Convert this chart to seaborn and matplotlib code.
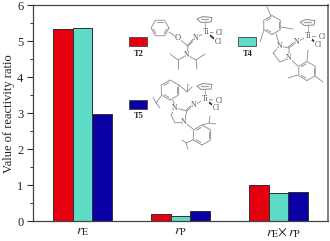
import numpy as np
import pandas as pd
import matplotlib
matplotlib.use("Agg")
import matplotlib.pyplot as plt
import matplotlib.patches as mpatches
from matplotlib.ticker import MultipleLocator
import seaborn as sns

# data
categories = ["rE", "rP", "rE x rP"]
catalysts = ["T2", "T4", "T5"]
t2_values = [5.35, 0.19, 0.99]
t4_values = [5.38, 0.15, 0.79]
t5_values = [2.97, 0.27, 0.80]
tick_labels = [r"$r_{\mathrm{E}}$", r"$r_{\mathrm{P}}$",
               r"$\quad r_{\mathrm{E}}{\times}\,r_{\mathrm{P}}$"]
colors = {"T2": "#e6000f", "T4": "#5fdcc8", "T5": "#0a00a6"}

GREY = "#8a8a8a"
W, H = 330, 241

sns.set_theme(style="ticks")
plt.rcParams.update({
    "font.family": ["Liberation Serif", "DejaVu Serif"],
    "mathtext.fontset": "stix",
})

df = pd.DataFrame({
    "category": categories * 3,
    "catalyst": np.repeat(catalysts, 3),
    "value": t2_values + t4_values + t5_values,
})

fig = plt.figure(figsize=(W / 100, H / 100), dpi=100)
ax = fig.add_axes([33 / W, 1 - 221 / H, 295 / W, 215.5 / H])
sns.barplot(data=df, x="category", y="value", hue="catalyst", order=categories,
            hue_order=catalysts, palette=colors, width=0.6, gap=0, saturation=1,
            edgecolor="#303030", linewidth=0.7, legend=False, ax=ax)

ax.set_xlim(-0.505, 2.505)
ax.set_ylim(0, 6)
ax.yaxis.set_major_locator(MultipleLocator(1))
ax.yaxis.set_minor_locator(MultipleLocator(0.5))
ax.tick_params(axis="y", which="major", length=4, width=0.8, labelsize=9, pad=3, color="#333333")
ax.tick_params(axis="y", which="minor", length=2, width=0.7, color="#333333")
ax.tick_params(axis="x", length=0, labelsize=10, pad=3)
ax.set_xticks(range(3))
ax.set_xticklabels(tick_labels)
ax.set_xlabel("")
ax.set_ylabel("Value of reactivity ratio", fontsize=9, labelpad=1.5, color="#222222")
for side in ["left", "bottom", "top"]:
    ax.spines[side].set_visible(True)
    ax.spines[side].set_color("#444444")
    ax.spines[side].set_linewidth(0.9)
ax.spines["right"].set_visible(True)
ax.spines["right"].set_color("#777777")
ax.spines["right"].set_linewidth(1.3)

# overlay in pixel coordinates for the key swatches and the structures
ov = fig.add_axes([0, 0, 1, 1], facecolor="none")
ov.set_xlim(0, W)
ov.set_ylim(H, 0)
ov.axis("off")


def bond(*pts, lw=0.6, color=GREY):
    xs, ys = zip(*pts)
    ov.plot(xs, ys, color=color, lw=lw, solid_capstyle="round")


def ring(cx, cy, r, start=90):
    ang = np.radians(start + np.arange(7) * 60)
    pts = list(zip(cx + r * np.cos(ang), cy + r * np.sin(ang)))
    bond(*pts)
    # inner double bonds
    for i in (0, 2, 4):
        a = np.array(pts[i])
        b = np.array(pts[i + 1])
        c = np.array([cx, cy])
        bond(tuple(a + 0.25 * (c - a) * 0.8 + 0.12 * (b - a)), tuple(b + 0.25 * (c - b) * 0.8 + 0.12 * (a - b)))


def atom(x, y, s, size=5.5, color="#555555"):
    ov.text(x, y, s, fontsize=size, color=color, ha="center", va="center",
            bbox=dict(fc="white", ec="none", pad=0.2))


def titanium(tx, ty, cp_x, cp_y, cl1, cl2):
    ov.add_patch(mpatches.Polygon(
        [(cp_x - 8, cp_y - 1), (cp_x - 2, cp_y - 3.5), (cp_x + 7, cp_y - 2.5), (cp_x + 6, cp_y + 2), (cp_x - 4, cp_y + 2.5)],
        closed=True, fc="white", ec=GREY, lw=0.7))
    bond((cp_x - 4, cp_y - 1), (cp_x + 3, cp_y - 1), lw=1.0, color="#aaaaaa")
    bond((cp_x, cp_y + 2), (tx, ty), lw=0.5)
    bond((tx, ty), (tx + 0.55 * (cl1[0] - tx), ty + 0.55 * (cl1[1] - ty)))
    bond((tx, ty), (tx + 0.65 * (cl2[0] - tx), ty + 0.65 * (cl2[1] - ty)), lw=1.3, color="#333333")
    atom(tx, ty, "Ti")
    atom(cl1[0], cl1[1], "Cl")
    atom(cl2[0], cl2[1], "Cl")


# key swatches
for name, x, y in [("T2", 129, 37), ("T4", 238, 37), ("T5", 129, 100)]:
    ov.add_patch(mpatches.Rectangle((x, y), 18, 9, fc=colors[name], ec="#444444", lw=0.6))
    ov.text(x + 10, y + 16.5, name, fontsize=6, fontweight="bold", ha="center", va="center", color="#222222")

# T2 structure
ring(160, 28, 9, start=0)
bond((169, 32), (178, 38), (188, 46), (196, 38), (206, 32))
bond((187, 46), (195, 37))
bond((188, 46), (187, 55))
bond((170, 54), (178, 60), (187, 55), (196, 60), (205, 54))
bond((178, 60), (178, 69))
bond((196, 60), (197, 69))
atom(178, 38, "O", 6)
atom(196, 38, "N")
atom(187, 55, "N")
titanium(206, 32, 205, 20, (219, 33), (218, 42))

# T4 structure
ring(272, 25, 9.5)
ring(307, 71, 9.5)
bond((289, 48), (297, 42), (308, 36))
bond((288, 47), (296, 41))
bond((280, 46), (289, 48), (289, 58), (280, 62), (273, 53), (280, 46))
bond((280, 46), (276, 34))
bond((289, 58), (298, 66))
bond((267, 7), (271, 16))
bond((293, 29), (281, 27))
bond((260, 42), (264, 30))
bond((308, 50), (307, 61))
bond((288, 78), (298, 75))
bond((323, 82), (315, 76))
atom(280, 46, "N")
atom(289, 58, "N")
atom(297, 42, "N")
titanium(308, 36, 308, 23, (322, 37), (318, 45))

# T5 structure
ring(170, 90, 10)
ring(202, 135, 10)
bond((187, 111), (194, 105), (205, 99))
bond((186, 110), (193, 104))
bond((175, 108), (187, 111), (184, 122), (175, 123), (171, 115), (175, 108))
bond((175, 108), (173, 100))
bond((184, 122), (193, 129))
bond((179, 85), (187, 92), (192, 87))
bond((187, 92), (188, 84))
bond((161, 96), (156, 103), (153, 97))
bond((156, 103), (160, 108))
bond((202, 125), (209, 123), (216, 124))
bond((209, 123), (210, 116))
bond((193, 140), (186, 143), (182, 140))
bond((186, 143), (188, 149))
atom(175, 108, "N")
atom(184, 122, "N")
atom(194, 105, "N")
titanium(205, 99, 205, 87, (219, 101), (216, 108))

fig.savefig("out.png", dpi=100)
